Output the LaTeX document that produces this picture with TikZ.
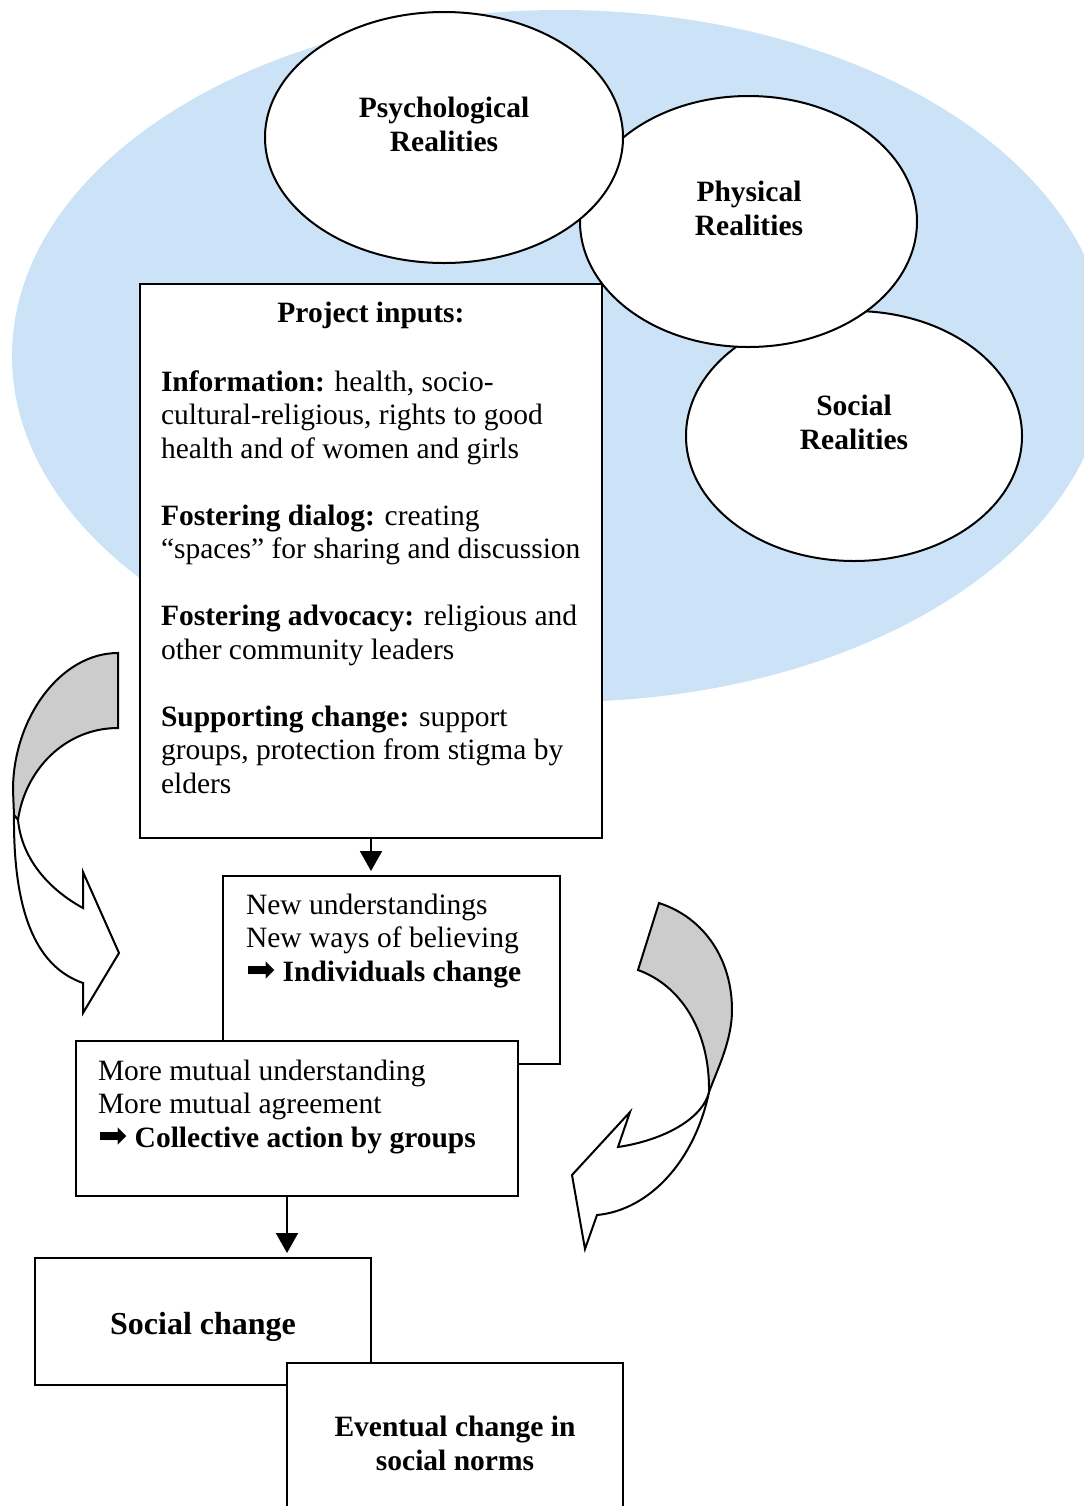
\documentclass[tikz,border=0pt]{standalone}
\usepackage{fontspec}
\setmainfont{Liberation Serif}
\newfontfamily\arrowfont{DejaVu Sans}
\usetikzlibrary{arrows.meta, fit, shapes.geometric}

\definecolor{skyfill}{RGB}{204,226,247}
\newcommand{\thick}{{\arrowfont\fontsize{17.5}{15}\selectfont ➡}}

\begin{document}
\begin{tikzpicture}[x=0.5pt, y=-0.5pt, line width=1pt,
  font=\fontsize{14.75}{16.75}\selectfont,
  realm/.style={ellipse, draw, fill=white, inner sep=0pt},
  stagebox/.style={draw, fill=white, inner sep=0pt},
  plaintxt/.style={inner sep=0pt, align=left, anchor=base west},
  boldtxt/.style={inner sep=0pt, align=center, anchor=base, font=\fontsize{14.75}{17}\selectfont\bfseries},
  flow/.style={-{Triangle[length=10pt, width=11pt]}, shorten >=2pt},
  bendarrow/.style={draw, line join=miter}]
\useasboundingbox (0,0) rectangle (1083,1506);

% realities
\node[ellipse, fill=skyfill, minimum width=548pt, minimum height=346pt, inner sep=0pt] (world) at (560,356) {};
\node[realm, minimum width=168pt, minimum height=125pt] (social) at (854,436) {};
\node[realm, minimum width=168.5pt, minimum height=125.5pt] (physical) at (748.5,221.5) {};
\node[realm, minimum width=179pt, minimum height=125.5pt] (psych) at (444,137.5) {};
\node[boldtxt] (psychtxt) at (444,151) {Psychological\\Realities};
\node[boldtxt] (physicaltxt) at (749,235) {Physical\\Realities};
\node[boldtxt] (socialtxt) at (854,449) {Social\\Realities};

% project inputs
\node[stagebox, fit={(140,284) (602,838)}] (inputs) {};
\node[boldtxt] (inputstitle) at (371,322) {Project inputs:};
\node[plaintxt] (inputstxt) at (160,793) {%
\textbf{Information:} health, socio-\\
cultural-religious, rights to good\\
health and of women and girls\\[16.75pt]
\textbf{Fostering dialog:} creating\\
“spaces” for sharing and discussion\\[16.75pt]
\textbf{Fostering advocacy:} religious and\\
other community leaders\\[16.75pt]
\textbf{Supporting change:} support\\
groups, protection from stigma by\\
elders};

% stages of change
\node[stagebox, fit={(223,876) (560,1064)}] (individual) {};
\node[plaintxt] (individualtxt) at (245,981) {New understandings\\
New ways of believing\\
\thick\ \textbf{Individuals change}};
\node[stagebox, fit={(76,1041) (518,1196)}] (mutual) {};
\node[plaintxt] (mutualtxt) at (97,1147) {More mutual understanding\\
More mutual agreement\\
\thick\ \textbf{Collective action by groups}};
\node[stagebox, fit={(35,1258) (371,1385)}] (change) {};
\node[boldtxt, font=\fontsize{16}{18}\selectfont\bfseries] (changetxt) at (203,1334) {Social change};
\node[stagebox, fit={(287,1363) (623,1530)}] (norms) {};
\node[boldtxt] (normstxt) at (455,1470) {Eventual change in\\social norms};

\draw[flow] (inputs.south) -- (inputs.south |- individual.north);
\draw[flow] ([xshift=-5pt]mutual.south) -- ([xshift=-5pt]mutual.south |- change.north);

% curved arrows
\filldraw[bendarrow, fill=black!20] (118,653) .. controls (60,653) and (13,719) .. (13,790) -- (14,815) -- (18,820) .. controls (25,770) and (65,728) .. (118,728) -- cycle;
\filldraw[bendarrow, fill=white] (14,815) .. controls (13,920) and (40,968) .. (83,983) -- (83,1013) -- (119,953) -- (83,872) -- (83,908) .. controls (50,890) and (22,860) .. (18,820) -- cycle;

\filldraw[bendarrow, fill=black!20] (659,903) .. controls (705,918) and (732,960) .. (732,1010) .. controls (732,1040) and (718,1068) .. (709,1092) .. controls (710,1030) and (680,985) .. (638,970) -- cycle;
\filldraw[bendarrow, fill=white] (709,1092) .. controls (695,1160) and (650,1210) .. (597,1215) -- (585,1249) -- (572,1175) -- (630,1112) -- (618,1147) .. controls (665,1140) and (703,1118) .. (709,1092) -- cycle;
\end{tikzpicture}
\end{document}
